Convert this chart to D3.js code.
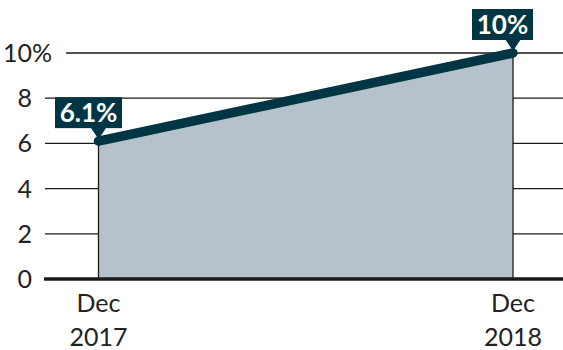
<!DOCTYPE html>
<html>
<head>
<meta charset="utf-8">
<script src="https://cdn.jsdelivr.net/npm/d3@7"></script>
<style>
  body { margin: 0; background: #fff; }
  text { font-family: Lato, "Open Sans", sans-serif; }
</style>
</head>
<body>
<div id="chart"></div>
<script>
// data
const dates = ["Dec 2017", "Dec 2018"];
const values = [6.1, 10];
const valueLabels = ["6.1%", "10%"];
const yTicks = [0, 2, 4, 6, 8, 10];

const width = 563, height = 350;
const x = d3.scalePoint().domain(dates).range([98.5, 513]);
const y = d3.scaleLinear().domain([0, 10]).range([279, 53]);

const svg = d3.select("#chart").append("svg")
  .attr("width", width).attr("height", height);

// gridlines
svg.append("g").selectAll("line")
  .data(yTicks.filter(d => d > 0))
  .enter().append("line")
  .attr("x1", d => d === 10 ? 66 : 45)
  .attr("x2", width)
  .attr("y1", d => y(d)).attr("y2", d => y(d))
  .attr("stroke", "#1a1a1a").attr("stroke-width", 1.3);

// area
const pts = dates.map((d, i) => ({ d: d, v: values[i] }));
svg.append("path")
  .datum(pts)
  .attr("d", d3.area().x(p => x(p.d)).y0(y(0)).y1(p => y(p.v)))
  .attr("fill", "#b6c2cb");

// vertical edges
svg.selectAll(".edge").data(pts).enter().append("line")
  .attr("x1", p => x(p.d)).attr("x2", p => x(p.d))
  .attr("y1", p => y(p.v)).attr("y2", y(0))
  .attr("stroke", "#1a1a1a").attr("stroke-width", 1.3);

// baseline
svg.append("line")
  .attr("x1", 44).attr("x2", width)
  .attr("y1", y(0)).attr("y2", y(0))
  .attr("stroke", "#1a1a1a").attr("stroke-width", 3.5);

// y tick labels
svg.append("g").selectAll("text").data(yTicks).enter().append("text")
  .attr("x", 32).attr("y", d => y(d))
  .attr("dy", "0.36em")
  .attr("text-anchor", "end")
  .attr("font-size", 25).attr("fill", "#222")
  .text(d => d);
svg.append("text")
  .attr("x", 32).attr("y", y(10)).attr("dy", "0.36em")
  .attr("font-size", 25).attr("fill", "#222")
  .text("%");

// x labels
const xl = svg.append("g").selectAll("text").data(dates).enter().append("text")
  .attr("x", d => x(d))
  .attr("text-anchor", "middle")
  .attr("font-size", 25).attr("fill", "#222");
xl.append("tspan").attr("x", d => x(d)).attr("y", 312).text(d => d.split(" ")[0]);
xl.append("tspan").attr("x", d => x(d)).attr("y", 346).text(d => d.split(" ")[1]);

// line
svg.append("path")
  .datum(pts)
  .attr("d", d3.line().x(p => x(p.d)).y(p => y(p.v)))
  .attr("fill", "none")
  .attr("stroke", "#003644").attr("stroke-width", 9.5)
  .attr("stroke-linecap", "round");

// value labels
const boxes = [
  { cx: 88.5, w: 67 },
  { cx: 502.5, w: 61 }
];
pts.forEach((p, i) => {
  const px = x(p.d), py = y(p.v);
  const b = boxes[i];
  const bottom = py - 13, top = bottom - 31;
  const g = svg.append("g");
  g.append("rect")
    .attr("x", b.cx - b.w / 2).attr("y", top)
    .attr("width", b.w).attr("height", 31)
    .attr("fill", "#003644");
  g.append("path")
    .attr("d", `M${px - 8},${bottom - 1}L${px + 8},${bottom - 1}L${px},${py - 2}Z`)
    .attr("fill", "#003644");
  g.append("text")
    .attr("x", b.cx).attr("y", top + 15.5).attr("dy", "0.36em")
    .attr("text-anchor", "middle")
    .attr("font-size", 26).attr("font-weight", "bold").attr("fill", "#fff")
    .text(valueLabels[i]);
});
</script>
</body>
</html>
